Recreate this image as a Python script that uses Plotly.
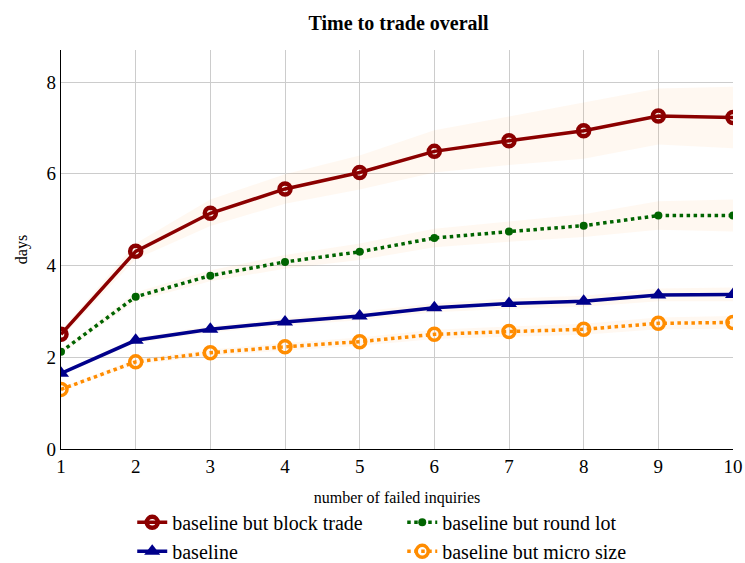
import plotly.graph_objects as go

x = [1, 2, 3, 4, 5, 6, 7, 8, 9, 10]

block = [2.50, 4.31, 5.14, 5.67, 6.03, 6.49, 6.72, 6.94, 7.26, 7.23]
block_hi = [2.58, 4.48, 5.44, 5.99, 6.40, 6.95, 7.25, 7.55, 7.86, 7.90]
block_lo = [2.42, 4.14, 4.86, 5.35, 5.66, 6.03, 6.19, 6.33, 6.64, 6.56]

roundlot = [2.12, 3.32, 3.78, 4.08, 4.30, 4.60, 4.74, 4.87, 5.09, 5.09]
roundlot_hi = [2.17, 3.42, 3.90, 4.23, 4.48, 4.80, 4.96, 5.12, 5.40, 5.44]
roundlot_lo = [2.07, 3.22, 3.66, 3.93, 4.12, 4.40, 4.52, 4.62, 4.78, 4.74]

baseline = [1.65, 2.37, 2.61, 2.77, 2.90, 3.08, 3.17, 3.22, 3.36, 3.37]
baseline_hi = [1.68, 2.43, 2.68, 2.85, 2.99, 3.18, 3.28, 3.34, 3.50, 3.52]
baseline_lo = [1.62, 2.31, 2.54, 2.69, 2.81, 2.98, 3.06, 3.10, 3.22, 3.22]

micro = [1.30, 1.90, 2.10, 2.23, 2.34, 2.50, 2.56, 2.61, 2.74, 2.76]
micro_hi = [1.33, 1.96, 2.17, 2.31, 2.43, 2.60, 2.67, 2.73, 2.87, 2.90]
micro_lo = [1.27, 1.84, 2.03, 2.15, 2.25, 2.40, 2.45, 2.49, 2.61, 2.62]

names = ["baseline but block trade", "baseline but round lot", "baseline", "baseline but micro size"]
colors = ["#8B0000", "#006400", "#00008B", "#FF8C00"]
band_color = "rgba(255,160,60,0.07)"
SERIF = "Liberation Serif, Times New Roman, serif"

fig = go.Figure()

for hi, lo in [(block_hi, block_lo), (roundlot_hi, roundlot_lo),
               (baseline_hi, baseline_lo), (micro_hi, micro_lo)]:
    fig.add_trace(go.Scatter(x=x, y=hi, mode="lines", line=dict(width=0),
                             showlegend=False, hoverinfo="skip"))
    fig.add_trace(go.Scatter(x=x, y=lo, mode="lines", line=dict(width=0),
                             fill="tonexty", fillcolor=band_color,
                             showlegend=False, hoverinfo="skip"))

series = [
    (block, names[0], colors[0], "solid", dict(symbol="circle-open", size=11, line=dict(width=4.5, color=colors[0]))),
    (roundlot, names[1], colors[1], "dot", dict(symbol="circle", size=8, color=colors[1])),
    (baseline, names[2], colors[2], "solid", dict(symbol="triangle-up", size=14, color=colors[2])),
    (micro, names[3], colors[3], "dot", dict(symbol="circle-open", size=12, line=dict(width=3.5, color=colors[3]))),
]
for ys, nm, col, dash, mk in series:
    fig.add_trace(go.Scatter(x=x, y=ys, name=nm, mode="lines+markers",
                             line=dict(color=col, width=3.5, dash=dash),
                             marker=mk))

fig.update_layout(
    width=745, height=563,
    margin=dict(l=61, r=12, t=50, b=114, autoexpand=False),
    paper_bgcolor="white", plot_bgcolor="white",
    font=dict(family=SERIF, color="black", size=16),
    title=dict(text="<b>Time to trade overall</b>", x=0.535, xanchor="center",
               y=0.96, yanchor="middle", font=dict(size=20, family=SERIF)),
    legend=dict(orientation="h", x=0.106, xanchor="left",
                yref="paper", y=-0.135, yanchor="top",
                entrywidth=225, entrywidthmode="pixels", traceorder="normal",
                font=dict(size=20, family=SERIF), bgcolor="rgba(0,0,0,0)",
                tracegroupgap=0),
    showlegend=True,
)
fig.update_xaxes(range=[1, 10], tickvals=x, ticktext=[str(v) for v in x],
                 showgrid=True, gridcolor="#cccccc", gridwidth=1,
                 showline=True, linecolor="black", linewidth=1.2,
                 ticks="", tickfont=dict(size=19, family=SERIF), zeroline=False,
                 automargin=False,
                 title=dict(text="number of failed inquiries", font=dict(size=16, family=SERIF), standoff=15))
fig.update_yaxes(range=[0, 8.7], tickvals=[0, 2, 4, 6, 8],
                 showgrid=True, gridcolor="#cccccc", gridwidth=1,
                 showline=True, linecolor="black", linewidth=1.2,
                 ticks="", tickfont=dict(size=19, family=SERIF), zeroline=False,
                 automargin=False,
                 title=dict(text="days", font=dict(size=16, family=SERIF), standoff=14))

fig.write_html("out.html")
